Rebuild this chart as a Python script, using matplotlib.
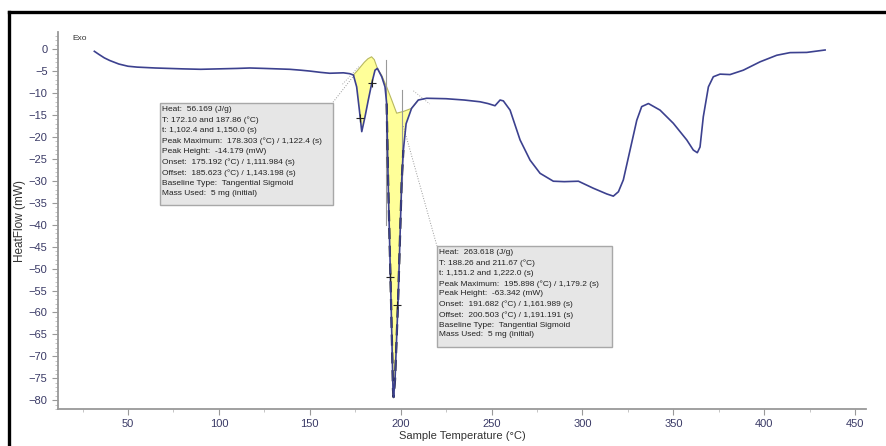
import numpy as np
import matplotlib
matplotlib.use("Agg")
import matplotlib.pyplot as plt
from matplotlib.lines import Line2D
from matplotlib.patches import Rectangle

plt.rcParams['font.family'] = ['Liberation Sans', 'DejaVu Sans']

# DSC trace: sample temperature (°C) vs heat flow (mW)
temp = [31.5, 34, 37, 40, 45, 50, 55, 65, 80, 90, 100, 110, 117, 125, 132,
        139, 145, 150, 156, 161, 168.5, 172, 174, 175.8, 177.3, 178.6, 180.4,
        182.2, 184.1, 185.9, 187.2, 189.6, 191.4, 192.3, 193.1, 194.7, 195.8,
        196.1, 196.9, 198.6, 200.6, 201.5, 203, 206, 209.7, 214.3, 225, 235,
        243.7, 248, 251.9, 254.7, 256.5, 260.2, 265.7, 271.2, 276.7, 284,
        290, 297.8, 306, 313.4, 317, 319.8, 322.5, 326.2, 329.9, 332.6, 336.3,
        342.7, 350, 357.4, 361, 363.2, 364.7, 366.5, 369.3, 372, 375.7, 381.2,
        388.5, 397.7, 406.9, 414.2, 423.4, 433.5]
heat_flow = [-0.5, -1.2, -2.0, -2.6, -3.4, -3.9, -4.1, -4.3, -4.5, -4.6, -4.5,
             -4.4, -4.3, -4.4, -4.5, -4.6, -4.8, -5.0, -5.3, -5.5, -5.4, -5.6,
             -5.9, -8.6, -13.9, -18.8, -15.4, -11.6, -7.8, -4.8, -4.4, -6.3,
             -8.6, -12.4, -29.8, -57.2, -77.7, -79.3, -75.4, -57.2, -29.8,
             -23.0, -17.0, -13.5, -11.6, -11.2, -11.3, -11.6, -12.0, -12.4,
             -12.9, -11.6, -11.8, -13.9, -20.7, -25.3, -28.3, -30.1, -30.2,
             -30.1, -31.7, -33.0, -33.5, -32.5, -29.8, -23.0, -16.2, -13.1,
             -12.4, -13.9, -16.9, -20.7, -23.0, -23.6, -22.3, -15.4, -8.6, -6.3,
             -5.7, -5.8, -4.8, -2.9, -1.4, -0.8, -0.75, -0.2]

# sigmoid baselines of the two integrated peaks
base1_t = [174.0, 176.0, 178.0, 180.0, 182.0, 184.0, 185.5, 187.2]
base1_v = [-5.9, -5.0, -4.0, -3.0, -2.2, -1.75, -2.4, -4.4]
base2_t = [187.2, 189.6, 192.3, 195.0, 197.8, 201.5, 206.0, 209.7]
base2_v = [-4.4, -6.0, -8.6, -11.5, -14.6, -14.2, -13.5, -11.6]

# onset / offset markers
mark_t = [177.6, 184.1, 194.2, 198.0]
mark_v = [-15.7, -7.8, -51.9, -58.3]

box1_lines = ["Heat:  56.169 (J/g)",
              "T: 172.10 and 187.86 (°C)",
              "t: 1,102.4 and 1,150.0 (s)",
              "Peak Maximum:  178.303 (°C) / 1,122.4 (s)",
              "Peak Height:  -14.179 (mW)",
              "Onset:  175.192 (°C) / 1,111.984 (s)",
              "Offset:  185.623 (°C) / 1,143.198 (s)",
              "Baseline Type:  Tangential Sigmoid",
              "Mass Used:  5 mg (initial)"]
box2_lines = ["Heat:  263.618 (J/g)",
              "T: 188.26 and 211.67 (°C)",
              "t: 1,151.2 and 1,222.0 (s)",
              "Peak Maximum:  195.898 (°C) / 1,179.2 (s)",
              "Peak Height:  -63.342 (mW)",
              "Onset:  191.682 (°C) / 1,161.989 (s)",
              "Offset:  200.503 (°C) / 1,191.191 (s)",
              "Baseline Type:  Tangential Sigmoid",
              "Mass Used:  5 mg (initial)"]

curve_col = '#3c418f'
tick_col = '#3a3a66'

fig = plt.figure(figsize=(8.86, 4.46), dpi=100)
ax = fig.add_axes([58 / 886, 37 / 446, 808 / 886, 377 / 446])

# yellow peak areas
for bt, bv in [(base1_t, base1_v), (base2_t, base2_v)]:
    tt = np.linspace(bt[0], bt[-1], 200)
    ax.fill_between(tt, np.interp(tt, temp, heat_flow), np.interp(tt, bt, bv),
                    color='#ffff99', edgecolor='none', zorder=1)
    ax.plot(bt, bv, color='#b8b860', lw=0.8, zorder=2)

# dashed edges of the big spike
sl = slice(temp.index(192.3), temp.index(201.5) + 1)
ax.plot(temp[sl], heat_flow[sl], color='#222222', lw=1.6, ls=(0, (5, 3)), zorder=3)

ax.plot(temp, heat_flow, color=curve_col, lw=1.2, zorder=4)

# grey onset/offset verticals and leader lines
ax.plot([191.7, 191.7], [-2.5, -40], color='#999999', lw=0.8, zorder=2)
ax.plot([201.0, 201.0], [-9.3, -30], color='#999999', lw=0.8, zorder=2)
ax.plot([162.8, 174.9], [-12.1, -5.7], color='#999999', lw=0.7, ls=':', zorder=2)
ax.plot([220.0, 201.3], [-44.9, -17.3], color='#999999', lw=0.7, ls=':', zorder=2)
ax.plot([168.0, 177.0], [-8.0, -4.0], color='#aaaaaa', lw=0.7, ls=':', zorder=2)
ax.plot([207.0, 216.0], [-9.5, -12.5], color='#aaaaaa', lw=0.7, ls=':', zorder=2)
ax.plot(mark_t, mark_v, ls='none', marker='+', ms=6, mew=0.8, color='#222222', zorder=5)

# annotation boxes
for (x0, y0, x1, y1), lines, lsp in [((67.6, -12.3, 162.8, -35.5), box1_lines, 1.58),
                                     ((220.0, -44.9, 316.3, -67.9), box2_lines, 1.54)]:
    ax.add_patch(Rectangle((x0, y1), x1 - x0, y0 - y1, facecolor='#e6e6e6',
                           edgecolor='#a8a8a8', lw=1.0, zorder=6))
    ax.text(x0 + 1.2, y0 - 0.75, "\n".join(lines), fontsize=6, color='#222222',
            va='top', ha='left', linespacing=lsp, zorder=7)

ax.text(19.5, 2.4, "Exo", fontsize=6, color='#333333', va='center')

ax.set_xlim(11.5, 456)
ax.set_ylim(-82, 3.9)
ax.set_xticks(np.arange(50, 451, 50))
ax.set_xticks(np.arange(25, 451, 25), minor=True)
ax.set_yticks(np.arange(-80, 1, 5))
ax.set_yticks(np.arange(-82, 4, 1), minor=True)
for s in ['top', 'right']:
    ax.spines[s].set_visible(False)
for s in ['left', 'bottom']:
    ax.spines[s].set_color('#999999')
    ax.spines[s].set_linewidth(1.3)
ax.tick_params(which='major', length=4, color='#999999', labelsize=8,
               labelcolor=tick_col)
ax.tick_params(which='minor', length=2, color='#bbbbbb')
ax.set_xlabel("Sample Temperature (°C)", fontsize=8, color='#333333', labelpad=1)
ax.set_ylabel("HeatFlow (mW)", fontsize=8.5, color='#333333', labelpad=2)

# black frame (left and top)
fig.add_artist(Line2D([9 / 886, 9 / 886], [0, 434 / 446], color='black', lw=2.4))
fig.add_artist(Line2D([9 / 886, 1], [434 / 446, 434 / 446], color='black', lw=2.4))

fig.savefig("out.png", dpi=100)
